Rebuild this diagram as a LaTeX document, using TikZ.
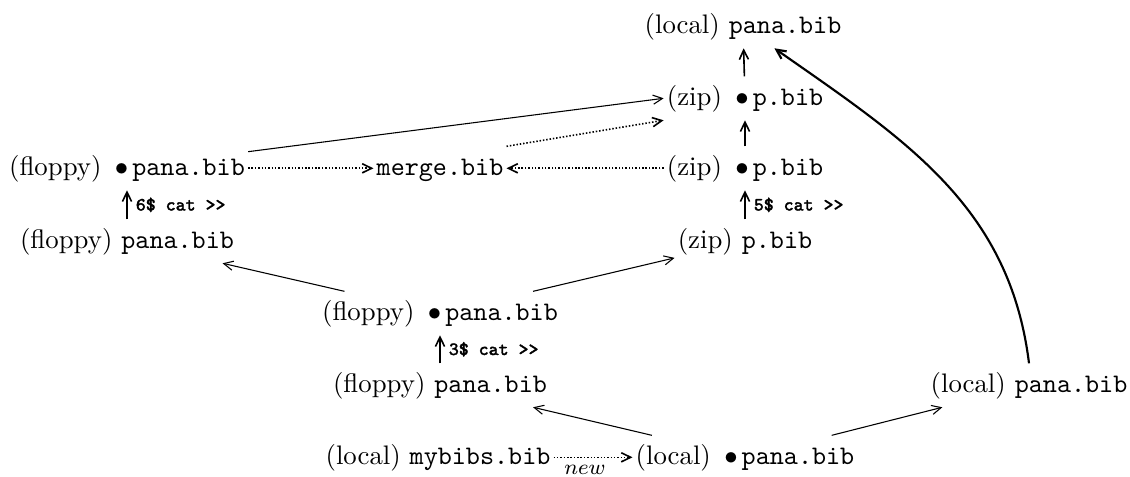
\documentclass[tikz,border=0pt]{standalone}
\usepackage{fontspec}
\newfontfamily\lblfont{lmmono8-regular.otf}[FakeBold=1.8]
\usetikzlibrary{arrows.meta}
\begin{document}
\begin{tikzpicture}[x=0.3731pt,y=-0.3731pt,
  obj/.style={anchor=base, inner xsep=1pt, inner ysep=2.5pt, text height=8pt, text depth=3pt},
  ar/.style={-{Straight Barb[length=3.5pt,width=3.4pt]}, line width=0.4pt},
  varr/.style={ar, line width=0.6pt},
  dotar/.style={ar, dash pattern=on 0.55pt off 0.7pt, line width=0.6pt},
  lbl/.style={font=\scriptsize\lblfont, anchor=west, inner xsep=3pt, inner ysep=0pt}]
\useasboundingbox (0,0) rectangle (1130,476);
\newcommand{\bul}{\hspace{5pt}$\bullet$\hspace{1.5pt}}
% nodes
\node[obj] (l1) at (743,33)  {(local) \texttt{pana.bib}};
\node[obj] (z2) at (745,105) {(zip)\bul\texttt{p.bib}};
\node[obj] (f3) at (127,175) {(floppy)\bul\texttt{pana.bib}};
\node[obj] (m3) at (440,175) {\texttt{merge.bib}};
\node[obj] (z3) at (745,175) {(zip)\bul\texttt{p.bib}};
\node[obj] (f5) at (127,248) {(floppy) \texttt{pana.bib}};
\node[obj] (z5) at (745,248) {(zip) \texttt{p.bib}};
\node[obj] (f6) at (440,320) {(floppy)\bul\texttt{pana.bib}};
\node[obj] (f8) at (440,392) {(floppy) \texttt{pana.bib}};
\node[obj] (l8) at (1029,392) {(local) \texttt{pana.bib}};
\node[obj] (b9) at (438,464) {(local) \texttt{mybibs.bib}};
\node[obj] (l9) at (745,464) {(local)\bul\texttt{pana.bib}};
% vertical arrows
\draw[varr] (f5) -- node[lbl]{6\$ cat >{}>} (f3);
\draw[varr] (z5) -- node[lbl]{5\$ cat >{}>} (z3);
\draw[varr] (f8) -- node[lbl]{3\$ cat >{}>} (f6);
\draw[varr] (z3) -- (z2);
\draw[varr] (z2) -- (l1);
% diagonals
\draw[ar] (l9) -- (f8);
\draw[ar] (l9) -- (l8);
\draw[ar] (f6) -- (f5);
\draw[ar] (f6) -- (z5);
\draw[ar] ([yshift=-2pt]f3.north east) -- (z2.west);
% dotted
\draw[dotar] (f3) -- (m3);
\draw[dotar] (z3) -- (m3);
\draw[dotar] (m3.north east) -- (z2.south west);
\draw[dotar] (b9) -- node[below, font=\footnotesize, inner sep=1pt, yshift=-1.5pt, xshift=-3pt]{$new$} (l9);
% curve
\draw[ar, line width=0.8pt] (l8.north) to[out=97,in=-35] (l1);
\end{tikzpicture}
\end{document}
